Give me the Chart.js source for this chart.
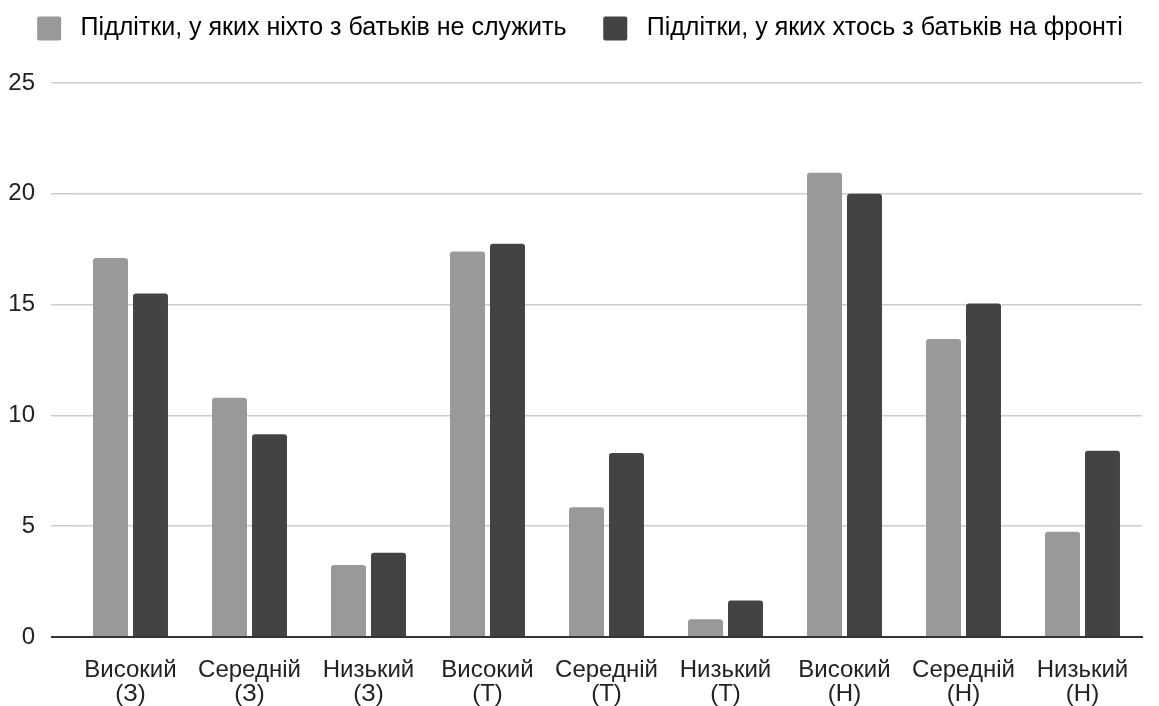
<!DOCTYPE html>
<html><head><meta charset="utf-8">
<script src="https://cdn.jsdelivr.net/npm/chart.js@4/dist/chart.umd.min.js"></script>
<style>html,body{margin:0;padding:0;background:#fff;}#wrap{width:1159px;height:706px;}</style>
</head><body><div id="wrap"><canvas id="c" width="1159" height="706"></canvas></div>
<script>
const categories = [["Високий","(З)"],["Середній","(З)"],["Низький","(З)"],["Високий","(Т)"],["Середній","(Т)"],["Низький","(Т)"],["Високий","(Н)"],["Середній","(Н)"],["Низький","(Н)"]];
const seriesNames = ["Підлітки, у яких ніхто з батьків не служить","Підлітки, у яких хтось з батьків на фронті"];
const noneServing = [17.1, 10.8, 3.25, 17.4, 5.85, 0.8, 20.95, 13.45, 4.75];
const parentAtFront = [15.5, 9.15, 3.8, 17.75, 8.3, 1.65, 20.0, 15.05, 8.4];
const yTicks = [0,5,10,15,20,25];
const colors = ['#999999', '#434343'];

Chart.defaults.font.family = "'Liberation Sans', Arial, sans-serif";
Chart.defaults.color = "#222";
const radius = {topLeft:3, topRight:3, bottomLeft:0, bottomRight:0};
new Chart(document.getElementById('c'), {
  type: 'bar',
  data: {
    labels: categories,
    datasets: [
      {label: seriesNames[0], data: noneServing, backgroundColor: colors[0], borderRadius: radius, borderSkipped: 'start'},
      {label: seriesNames[1], data: parentAtFront, backgroundColor: colors[1], borderRadius: radius, borderSkipped: 'start'}
    ]
  },
  options: {
    responsive: false,
    animation: false,
    layout: {padding: {left: 8, right: 17, top: 0, bottom: 0}},
    datasets: {bar: {categoryPercentage: 0.672, barPercentage: 0.875}},
    plugins: {
      tooltip: {enabled: false},
      legend: {
        position: 'top', align: 'center',
        labels: {
          boxWidth: 24, boxHeight: 24, padding: 16, font: {size: 25}, color: '#222',
          generateLabels: (chart) => chart.data.datasets.map((ds, i) => ({
            text: ' ' + ds.label + (i === 0 ? '   ' : ''),
            fillStyle: ds.backgroundColor, strokeStyle: ds.backgroundColor, lineWidth: 0,
            borderRadius: 2, datasetIndex: i, hidden: false
          })),
          useBorderRadius: true, borderRadius: 2
        }
      }
    },
    scales: {
      x: {
        grid: {display: false, drawTicks: false},
        border: {display: true, color: '#333', width: 2},
        ticks: {font: {size: 24, lineHeight: 1.0}, color: '#222', maxRotation: 0, autoSkip: false, padding: 21},
        afterFit: (s) => { s.height = 69; }
      },
      y: {
        min: 0, max: 25,
        afterBuildTicks: (ax) => { ax.ticks = yTicks.map(v => ({value: v})); },
        afterFit: (s) => { s.width = 63; },
        grid: {
          color: (c) => c.tick && c.tick.value === 0 ? '#333' : '#cccccc',
          tickColor: (c) => c.tick && c.tick.value === 0 ? '#333' : '#cccccc',
          lineWidth: (c) => c.tick && c.tick.value === 0 ? 2 : 1.5,
          drawTicks: true, tickLength: 20
        },
        border: {display: false},
        ticks: {font: {size: 24}, color: '#222', padding: 16}
      }
    }
  },
  plugins: [{
    id: 'legendGap',
    beforeInit(chart) {
      const orig = chart.legend.fit;
      chart.legend.fit = function() { orig.bind(chart.legend)(); this.height += 32; };
    },
    afterLayout(chart) {
      chart.legend.left += 5; chart.legend.right += 5;
    }
  }]
});
</script></body></html>
